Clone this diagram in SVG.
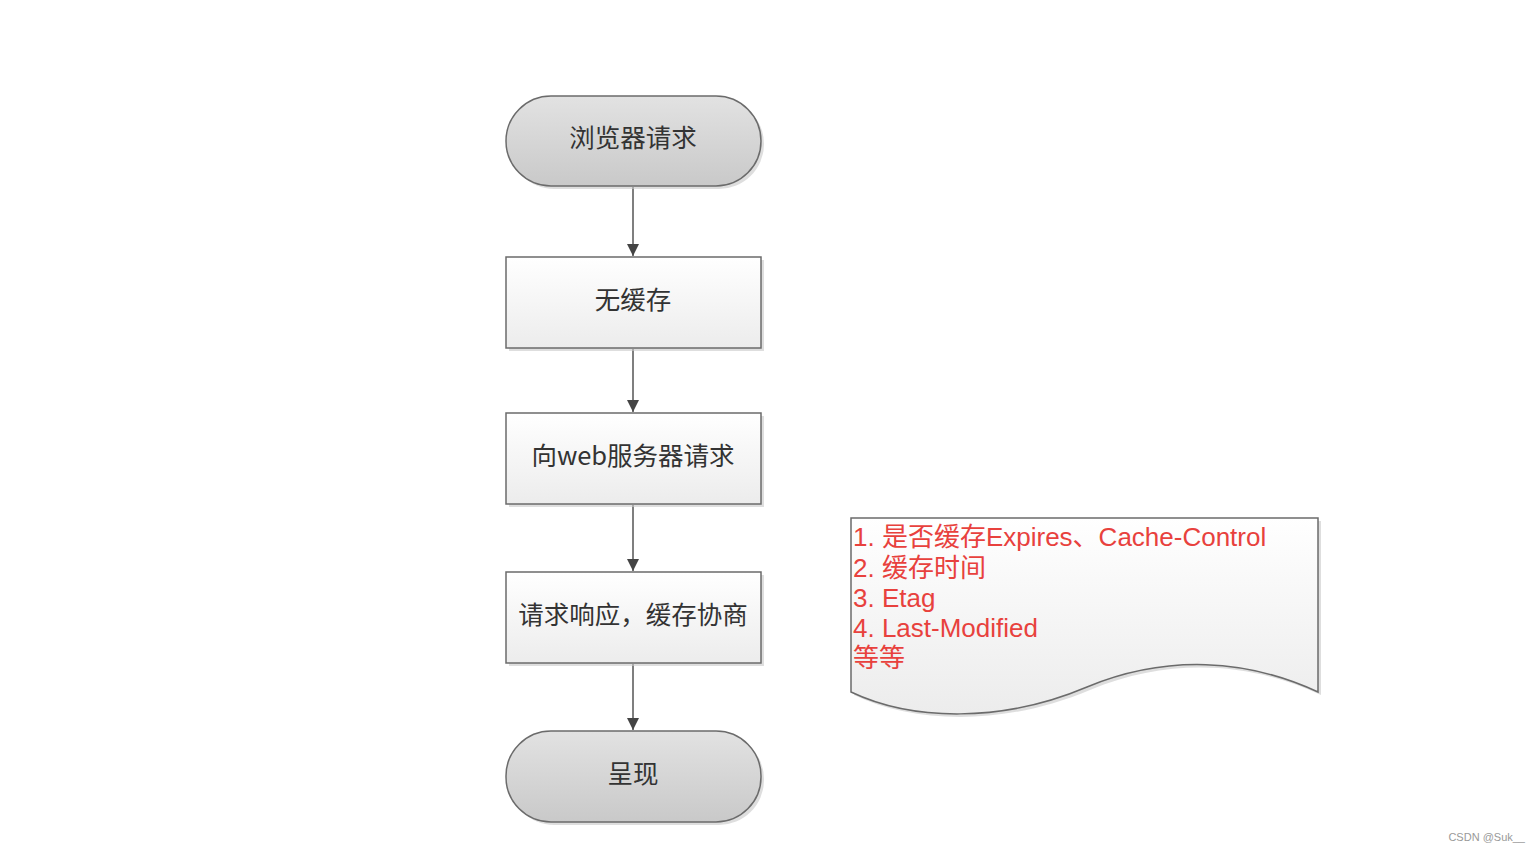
<svg xmlns="http://www.w3.org/2000/svg" width="1540" height="852" viewBox="0 0 1540 852">
<style>
.lbl{font-family:"Noto Sans CJK SC","Noto Sans",sans-serif;font-size:25.5px;fill:#333;text-anchor:middle}
.red{font-family:"Liberation Sans","Noto Sans CJK SC",sans-serif;font-size:26px;fill:#e8413d}
.edge{stroke:#555;stroke-width:1.5;fill:none;marker-end:url(#ah)}
.term{fill:url(#gterm);stroke:#6b6b6b;stroke-width:1.5}
.box{fill:url(#gbox);stroke:#6b6b6b;stroke-width:1.5}
.sh{fill:#c8c8c8;opacity:0.6}
</style>
<defs>
<linearGradient id="gterm" x1="0" y1="0" x2="0" y2="1"><stop offset="0" stop-color="#e2e2e2"/><stop offset="1" stop-color="#c9c9c9"/></linearGradient>
<linearGradient id="gbox" x1="0" y1="0" x2="0" y2="1"><stop offset="0" stop-color="#ffffff"/><stop offset="1" stop-color="#ececec"/></linearGradient>
<marker id="ah" viewBox="0 0 10 10" refX="10" refY="5" markerWidth="12" markerHeight="12" markerUnits="userSpaceOnUse" orient="auto"><path d="M0,0 L10,5 L0,10 z" fill="#444"/></marker>
</defs>
<rect width="1540" height="852" fill="#fff"/>
<g id="edges">
<line class="edge" x1="633" y1="187" x2="633" y2="256"/>
<line class="edge" x1="633" y1="349" x2="633" y2="412"/>
<line class="edge" x1="633" y1="505" x2="633" y2="571"/>
<line class="edge" x1="633" y1="664" x2="633" y2="730"/>
</g>
<g id="n1">
<rect class="sh" x="509" y="99" width="255" height="90" rx="45"/>
<rect class="term" x="506" y="96" width="255" height="90" rx="45"/>
<text class="lbl" x="633" y="147">浏览器请求</text>
</g>
<g id="n2">
<rect class="sh" x="509" y="260" width="255" height="91"/>
<rect class="box" x="506" y="257" width="255" height="91"/>
<text class="lbl" x="633" y="309">无缓存</text>
</g>
<g id="n3">
<rect class="sh" x="509" y="416" width="255" height="91"/>
<rect class="box" x="506" y="413" width="255" height="91"/>
<text class="lbl" x="633" y="465">向web服务器请求</text>
</g>
<g id="n4">
<rect class="sh" x="509" y="575" width="255" height="91"/>
<rect class="box" x="506" y="572" width="255" height="91"/>
<text class="lbl" x="633" y="624">请求响应，缓存协商</text>
</g>
<g id="n5">
<rect class="sh" x="509" y="734" width="255" height="91" rx="45"/>
<rect class="term" x="506" y="731" width="255" height="91" rx="45"/>
<text class="lbl" x="633" y="783">呈现</text>
</g>
<g id="note">
<path class="sh" d="M854,521 L1321,521 L1321,695 C1250,662 1170,657 1090,690 C1005,726 915,724 854,695 Z"/>
<path class="box" d="M851,518 L1318,518 L1318,692 C1247,659 1167,654 1087,687 C1002,723 912,721 851,692 Z"/>
<text class="red" x="853"><tspan x="853" y="546">1. 是否缓存Expires、Cache-Control</tspan><tspan x="853" y="577">2. 缓存时间</tspan><tspan x="853" y="607">3. Etag</tspan><tspan x="853" y="637">4. Last-Modified</tspan><tspan x="853" y="667">等等</tspan></text>
</g>
<text x="1525" y="841" text-anchor="end" style="font-family:'Liberation Sans',sans-serif;font-size:11px;fill:#999">CSDN @Suk__</text>
</svg>
